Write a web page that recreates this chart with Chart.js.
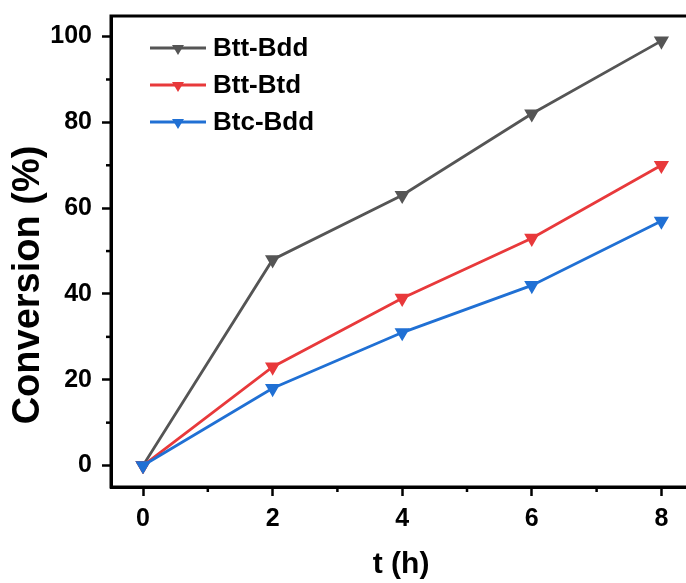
<!DOCTYPE html>
<html>
<head>
<meta charset="utf-8">
<script src="https://cdn.jsdelivr.net/npm/chart.js@4.4.0/dist/chart.umd.min.js"></script>
<style>
  html, body { margin: 0; padding: 0; background: #fff; overflow: hidden; }
  #wrap { width: 686px; height: 583px; overflow: hidden; }
</style>
</head>
<body>
<div id="wrap"><canvas id="chart" width="700" height="583"></canvas></div>
<script>
const hours = [0, 2, 4, 6, 8];
const seriesNames = ["Btt-Bdd", "Btt-Btd", "Btc-Bdd"];
const bttBdd = [0, 48, 63, 82, 99];
const bttBtd = [0, 23, 39, 53, 70];
const btcBdd = [0, 18, 31, 42, 57];
const colors = ["#555555", "#e8393b", "#2070d4"];

const FONT = "'Liberation Sans', Arial, sans-serif";

function pts(vals) {
  return hours.map((h, i) => ({ x: h, y: vals[i] }));
}

const datasets = [bttBdd, bttBtd, btcBdd].map((vals, i) => ({
  label: seriesNames[i],
  data: pts(vals),
  borderColor: colors[i],
  backgroundColor: colors[i],
  borderWidth: 2.8,
  pointStyle: "triangle",
  rotation: 180,
  pointRadius: 6,
  pointHoverRadius: 6,
  order: 2 - i,
}));

// frame, minor ticks, y title and the little legend in the top-left corner
const framePlugin = {
  id: "frame",
  afterDraw(chart) {
    const { ctx, chartArea: a, scales } = chart;
    ctx.save();
    ctx.strokeStyle = "#000";
    ctx.lineWidth = 2.5;
    // minor ticks
    for (let v = 1; v < 8; v += 2) {
      const x = scales.x.getPixelForValue(v);
      ctx.beginPath();
      ctx.moveTo(x, a.bottom);
      ctx.lineTo(x, a.bottom + 5);
      ctx.stroke();
    }
    for (let v = 10; v < 105; v += 20) {
      const y = scales.y.getPixelForValue(v);
      ctx.beginPath();
      ctx.moveTo(a.left, y);
      ctx.lineTo(a.left - 5, y);
      ctx.stroke();
    }
    ctx.lineWidth = 3;
    ctx.strokeRect(a.left, a.top, a.right - a.left, a.bottom - a.top);

    // y title (sits a bit lower than the axis centre)
    ctx.save();
    ctx.translate(29, 285);
    ctx.rotate(-Math.PI / 2);
    ctx.font = "bold 38px " + FONT;
    ctx.fillStyle = "#000";
    ctx.textAlign = "center";
    ctx.textBaseline = "middle";
    ctx.fillText("Conversion (%)", 0, 0);
    ctx.restore();

    // legend
    ctx.font = "bold 26px " + FONT;
    ctx.textAlign = "left";
    ctx.textBaseline = "middle";
    seriesNames.forEach((name, i) => {
      const y = 48 + i * 37;
      ctx.strokeStyle = colors[i];
      ctx.fillStyle = colors[i];
      ctx.lineWidth = 2.8;
      ctx.beginPath();
      ctx.moveTo(150, y);
      ctx.lineTo(206, y);
      ctx.stroke();
      ctx.beginPath();
      ctx.moveTo(172, y - 3);
      ctx.lineTo(184, y - 3);
      ctx.lineTo(178, y + 7);
      ctx.closePath();
      ctx.fill();
      ctx.fillStyle = "#000";
      ctx.fillText(name, 213, y + 1);
    });
    ctx.restore();
  },
};

new Chart(document.getElementById("chart"), {
  type: "line",
  data: { datasets },
  options: {
    responsive: false,
    animation: false,
    layout: { padding: { top: 16, right: 0, left: 0, bottom: 0 } },
    plugins: {
      legend: { display: false },
      tooltip: { enabled: false },
    },
    scales: {
      x: {
        type: "linear",
        min: -0.494,
        max: 8.46,
        afterFit: (s) => {
          s.height = 96;
          s.paddingLeft = 0;
          s.paddingRight = 0;
        },
        border: { display: true, color: "#000", width: 3 },
        grid: {
          drawOnChartArea: false,
          tickLength: 9,
          tickWidth: 2.5,
          tickColor: (c) => (c.tick && c.tick.value % 2 === 0 ? "#000" : "rgba(0,0,0,0)"),
        },
        ticks: {
          stepSize: 1,
          includeBounds: false,
          maxRotation: 0,
          autoSkip: false,
          padding: 8,
          color: "#000",
          font: { family: FONT, size: 25, weight: "bold" },
          callback: (v) => (v % 2 === 0 ? String(v) : ""),
        },
        title: {
          display: true,
          text: "t (h)",
          color: "#000",
          font: { family: FONT, size: 30, weight: "bold" },
          padding: { top: 0, bottom: 0 },
        },
      },
      y: {
        min: -5,
        max: 104.8,
        afterFit: (s) => {
          s.width = 111;
          s.paddingTop = 0;
          s.paddingBottom = 0;
        },
        border: { display: true, color: "#000", width: 3 },
        grid: {
          drawOnChartArea: false,
          tickLength: 9,
          tickWidth: 2.5,
          tickColor: (c) => (c.tick && c.tick.value % 20 === 0 ? "#000" : "rgba(0,0,0,0)"),
        },
        ticks: {
          stepSize: 10,
          includeBounds: false,
          autoSkip: false,
          padding: 10,
          color: "#000",
          font: { family: FONT, size: 25, weight: "bold" },
          callback: (v) => (v % 20 === 0 ? String(v) : ""),
        },
      },
    },
  },
  plugins: [framePlugin],
});
</script>
</body>
</html>
